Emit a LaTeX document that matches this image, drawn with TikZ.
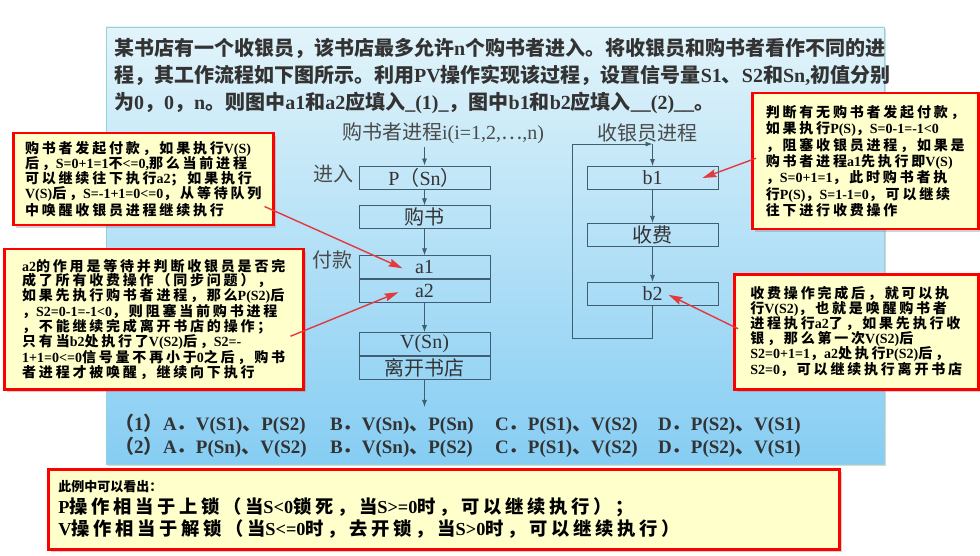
\documentclass[tikz,border=0pt]{standalone}
\usepackage{fontspec}
\setmainfont{Liberation Serif}
\newfontfamily\cjk{Noto Sans CJK SC}
\newfontfamily\cjksp{Noto Sans CJK SC}[LetterSpace=20]
\usetikzlibrary{positioning,arrows.meta,shadows}
\definecolor{paneltop}{HTML}{E2F4FA}
\definecolor{panelbot}{HTML}{86CDF3}
\definecolor{panelline}{HTML}{90D2DE}
\definecolor{notefill}{HTML}{FFFFCC}
\definecolor{arrowred}{HTML}{E5383D}
\definecolor{boxline}{HTML}{3F5E72}
\definecolor{labelgray}{HTML}{4A4A4A}
\definecolor{textdark}{HTML}{333333}

% CJK characters switch to the CJK family automatically
\XeTeXinterchartokenstate=1
\newXeTeXintercharclass\cjkclass
\newcount\cjkcode
\newcommand\setcjkrange[2]{%
  \cjkcode=#1\relax
  \loop
    \XeTeXcharclass\cjkcode=\cjkclass
    \ifnum\cjkcode<#2\relax \advance\cjkcode by 1 \repeat}
\setcjkrange{"3000}{"303F}
\setcjkrange{"4E00}{"9FFF}
\setcjkrange{"FF00}{"FFEF}
\XeTeXcharclass"22EF=\cjkclass
\newcommand\cjkcur{\cjk}
\XeTeXinterchartoks 0 \cjkclass={\begingroup\cjkcur}
\XeTeXinterchartoks 4095 \cjkclass={\begingroup\cjkcur}
\XeTeXinterchartoks \cjkclass 0={\endgroup}
\XeTeXinterchartoks \cjkclass 4095={\endgroup}

\begin{document}
\begin{tikzpicture}[x=1pt, y=-1pt,
  flowbox/.style={draw=boxline, line width=0.9pt, minimum width=131pt,
        minimum height=23pt, inner sep=0pt, text=textdark,
        font=\fontsize{20}{22}\selectfont},
  flowhead/.style={text=labelgray, font=\fontsize{20}{22}\selectfont},
  flowarrow/.style={draw=boxline, line width=0.8pt,
        -{Latex[length=7pt,width=5pt]}},
  notebox/.style={draw=red, line width=2.5pt, fill=notefill,
        anchor=north west, align=left, inner sep=0pt,
        drop shadow={shadow xshift=3pt, shadow yshift=-3pt, opacity=0.35},
        font={\bfseries\fontsize{14}{#1}\selectfont\def\cjkcur{\cjksp}}},
  redarrow/.style={draw=arrowred, line width=1.4pt,
        -{Stealth[length=14pt,width=8pt,inset=2pt]}}]
  \useasboundingbox (0,0) rectangle (980,556);
  \fill[white] (0,0) rectangle (980,556);
  \shade[top color=paneltop, bottom color=panelbot,
         drop shadow={shadow xshift=2pt, shadow yshift=-2pt, opacity=0.3}]
        (106,27) rectangle (884,464);
  \draw[panelline, line width=0.8pt] (106,27) rectangle (884,464);

  \node[anchor=north west, align=left, inner sep=0pt, text=textdark,
        font=\bfseries\fontsize{20}{27}\selectfont] (question) at (114,38)
        {某书店有一个收银员，该书店最多允许n个购书者进入。将收银员和购书者看作不同的进\\
         程，其工作流程如下图所示。利用PV操作实现该过程，设置信号量S1、S2和Sn,初值分别\\
         为0，0，n。则图中a1和a2应填入\_(1)\_，图中b1和b2应填入\_\_(2)\_\_。};

  \node[flowhead] (buytitle) at (443,133) {购书者进程i(i=1,2,⋯,n)};
  \node[flowbox] (psn) at (424.5,177.5) {P（Sn）};
  \node[flowbox, below=16pt of psn] (buy) {购书};
  \node[flowbox, below=26pt of buy] (a1) {a1};
  \node[flowbox, below=0pt of a1] (a2) {a2};
  \node[flowbox, below=29pt of a2] (vsn) {V(Sn)};
  \node[flowbox, below=0pt of vsn] (leave) {离开书店};
  \coordinate[below=27pt of leave] (out);
  \node[flowhead] (enter) at (333,174) {进入};
  \node[flowhead] (pay) at (332,260) {付款};
  \draw[flowarrow] (buytitle.south -| psn.north) -- (psn);
  \draw[flowarrow] (psn) -- (buy);
  \draw[flowarrow] (buy) -- (a1);
  \draw[flowarrow] (a2) -- (vsn);
  \draw[flowarrow] (leave) -- (out);

  \node[flowhead] (cashtitle) at (647,133) {收银员进程};
  \node[flowbox] (b1) at (652.5,178) {b1};
  \node[flowbox, below=33pt of b1] (fee) {收费};
  \node[flowbox, below=35pt of fee] (b2) {b2};
  \coordinate[above=22pt of b1] (looptop);
  \coordinate[below=33pt of b2] (loopbot);
  \draw[flowarrow] (b1) -- (fee);
  \draw[flowarrow] (fee) -- (b2);
  \draw[flowarrow] (b2) -- (loopbot) -- ++(-80.5,0) |- (looptop);
  \draw[flowarrow] (looptop) -- (b1);

  \node[anchor=north west, align=left, inner sep=0pt, text=textdark,
        font=\bfseries\fontsize{19}{23}\selectfont] (choices) at (115,414)
        {\makebox[48pt][l]{（1）}\makebox[167pt][l]{A．V(S1)、P(S2)}\makebox[165pt][l]{B．V(Sn)、P(Sn)}\makebox[163pt][l]{C．P(S1)、V(S2)}D．P(S2)、V(S1)\\
         \makebox[48pt][l]{（2）}\makebox[167pt][l]{A．P(Sn)、V(S2)}\makebox[165pt][l]{B．V(Sn)、P(S2)}\makebox[163pt][l]{C．P(S1)、V(S2)}D．P(S2)、V(S1)};

  \node[notebox=15, minimum width=260pt, minimum height=92pt] (n1) at (12,132)
        {购书者发起付款，如果执行V(S)\\
         后，S=0+1=1不<=0,那么当前进程\\
         可以继续往下执行a2；如果执行\\
         V(S)后，S=-1+1=0<=0，从等待队列\\
         中唤醒收银员进程继续执行};
  \node[notebox=14.8, minimum width=299pt, minimum height=140pt] (n2) at (3,248)
        {a2的作用是等待并判断收银员是否完\\
         成了所有收费操作（同步问题），\\
         如果先执行购书者进程，那么P(S2)后\\
         ，S2=0-1=-1<0，则阻塞当前购书进程\\
         ，不能继续完成离开书店的操作；\\
         只有当b2处执行了V(S2)后，S2=-\\
         1+1=0<=0信号量不再小于0之后，购书\\
         者进程才被唤醒，继续向下执行};
  \node[notebox=16.4, minimum width=226pt, minimum height=136pt] (n3) at (751,92)
        {判断有无购书者发起付款，\\
         如果执行P(S)，S=0-1=-1<0\\
         ，阻塞收银员进程，如果是\\
         购书者进程a1先执行即V(S)\\
         ，S=0+1=1，此时购书者执\\
         行P(S)，S=1-1=0，可以继续\\
         往下进行收费操作};
  \node[notebox=15, minimum width=244pt, minimum height=115pt] (n4) at (733,273)
        {收费操作完成后，就可以执\\
         行V(S2)，也就是唤醒购书者\\
         进程执行a2了，如果先执行收\\
         银，那么第一次V(S2)后\\
         S2=0+1=1，a2处执行P(S2)后，\\
         S2=0，可以继续执行离开书店};
  \node[notebox=22, minimum width=791pt, minimum height=80pt, text width=771pt,
        font={\bfseries\fontsize{18.3}{22}\selectfont\def\cjkcur{\cjksp}}] (n5) at (47,468)
        {{\fontsize{13}{14}\selectfont\def\cjkcur{\cjk}此例中可以看出：}\\
         P操作相当于上锁（当S<0锁死，当S>=0时，可以继续执行）；\\
         V操作相当于解锁（当S<=0时，去开锁，当S>0时，可以继续执行）};

  \coordinate (n1tail) at ([xshift=-10pt,yshift=20pt]n1.south east);
  \coordinate (n2tail) at ([xshift=-14pt,yshift=-17pt]n2.east);
  \coordinate (n3tail) at ([xshift=5pt,yshift=3pt]n3.west);
  \coordinate (n4tail) at ([xshift=5pt,yshift=3pt]n4.west);
  \draw[redarrow] (n1tail) -- ([xshift=-22pt,yshift=-1pt]a1.center);
  \draw[redarrow] (n2tail) -- ([xshift=-26pt,yshift=-1pt]a2.center);
  \draw[redarrow] (n3tail) -- ([xshift=50pt]b1.center);
  \draw[redarrow] (n4tail) -- ([xshift=16pt,yshift=-1pt]b2.center);
\end{tikzpicture}
\end{document}
